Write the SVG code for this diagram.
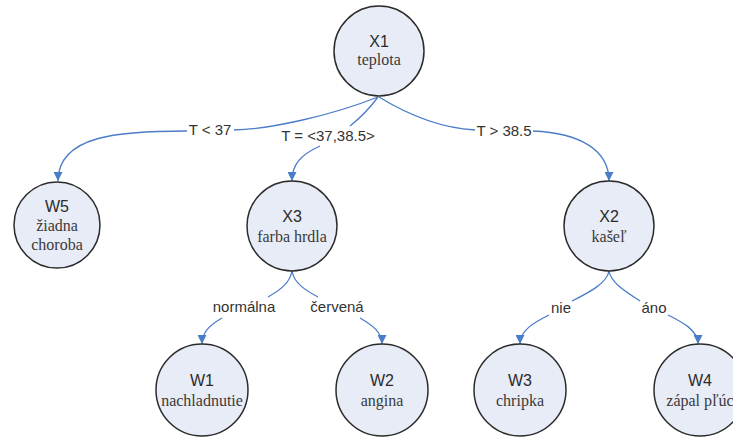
<svg xmlns="http://www.w3.org/2000/svg" width="733" height="437" viewBox="0 0 733 437">
<style>
.node circle{fill:#e8ecf6;stroke:#2b2b2b;stroke-width:1.5}
.t{font-family:"Liberation Sans",Arial,sans-serif;font-size:16px;fill:#2b2b2b;text-anchor:middle}
.s{font-family:"Liberation Serif","Times New Roman",serif;font-size:16px;fill:#3a3a3a;text-anchor:middle}
.edges path{fill:none;stroke:#4a7cc8;stroke-width:1.3}
.lbl{font-family:"Liberation Sans",Arial,sans-serif;font-size:15px;fill:#333;text-anchor:middle}
</style>
<defs>
<marker id="arr" viewBox="0 0 10 10" refX="10" refY="5" markerWidth="9" markerHeight="9" markerUnits="userSpaceOnUse" orient="auto">
<path d="M0,0 L10,5 L0,10 z" fill="#4a7cc8"/>
</marker>
</defs>
<rect width="733" height="437" fill="#fff"/>
<g class="edges">
<path d="M378,97 C 330,116 270,129 234,130"/>
<path d="M187,131 C 120,131 58,135 58,181" marker-end="url(#arr)"/>
<path d="M378,97 C 370,108 360,118 350,126"/>
<path d="M320,146 C 300,155 292,165 292,181" marker-end="url(#arr)"/>
<path d="M379,97 C 410,116 440,128 475,130"/>
<path d="M533,131 C 580,133 609,150 609,181" marker-end="url(#arr)"/>
<path d="M292,271 C 290,283 280,290 268,297"/>
<path d="M222,318 C 210,325 202,332 202,344" marker-end="url(#arr)"/>
<path d="M292,271 C 294,283 305,290 318,297"/>
<path d="M360,318 C 372,325 382,332 382,344" marker-end="url(#arr)"/>
<path d="M609,271 C 607,283 590,292 572,301"/>
<path d="M549,315 C 535,322 520,330 520,344" marker-end="url(#arr)"/>
<path d="M609,271 C 611,283 626,292 640,301"/>
<path d="M668,315 C 682,322 698,330 698,344" marker-end="url(#arr)"/>
<text class="lbl" x="210" y="135">T &lt; 37</text>
<text class="lbl" x="328" y="141">T = &lt;37,38.5&gt;</text>
<text class="lbl" x="504" y="136">T &gt; 38.5</text>
<text class="lbl" x="244" y="312">normálna</text>
<text class="lbl" x="337" y="312">červená</text>
<text class="lbl" x="561" y="313">nie</text>
<text class="lbl" x="654" y="313">áno</text>
</g>
<g id="X1" class="node"><circle cx="379" cy="51" r="45"/><text class="t" x="379" y="47">X1</text><text class="s" x="379" y="65">teplota</text></g>
<g id="W5" class="node"><circle cx="57" cy="225" r="43"/><text class="t" x="57" y="212">W5</text><text class="s" x="57" y="231">žiadna</text><text class="s" x="57" y="250">choroba</text></g>
<g id="X3" class="node"><circle cx="292" cy="226" r="45"/><text class="t" x="292" y="222">X3</text><text class="s" x="292" y="242">farba hrdla</text></g>
<g id="X2" class="node"><circle cx="609" cy="226" r="45"/><text class="t" x="609" y="222">X2</text><text class="s" x="609" y="242">kašeľ</text></g>
<g id="W1" class="node"><circle cx="202" cy="390" r="46"/><text class="t" x="202" y="386">W1</text><text class="s" x="202" y="406">nachladnutie</text></g>
<g id="W2" class="node"><circle cx="382" cy="390" r="46"/><text class="t" x="382" y="386">W2</text><text class="s" x="382" y="406">angina</text></g>
<g id="W3" class="node"><circle cx="520" cy="390" r="46"/><text class="t" x="520" y="386">W3</text><text class="s" x="520" y="406">chripka</text></g>
<g id="W4" class="node"><circle cx="700" cy="390" r="46"/><text class="t" x="700" y="386">W4</text><text class="s" x="700" y="406">zápal pľúc</text></g>
</svg>
